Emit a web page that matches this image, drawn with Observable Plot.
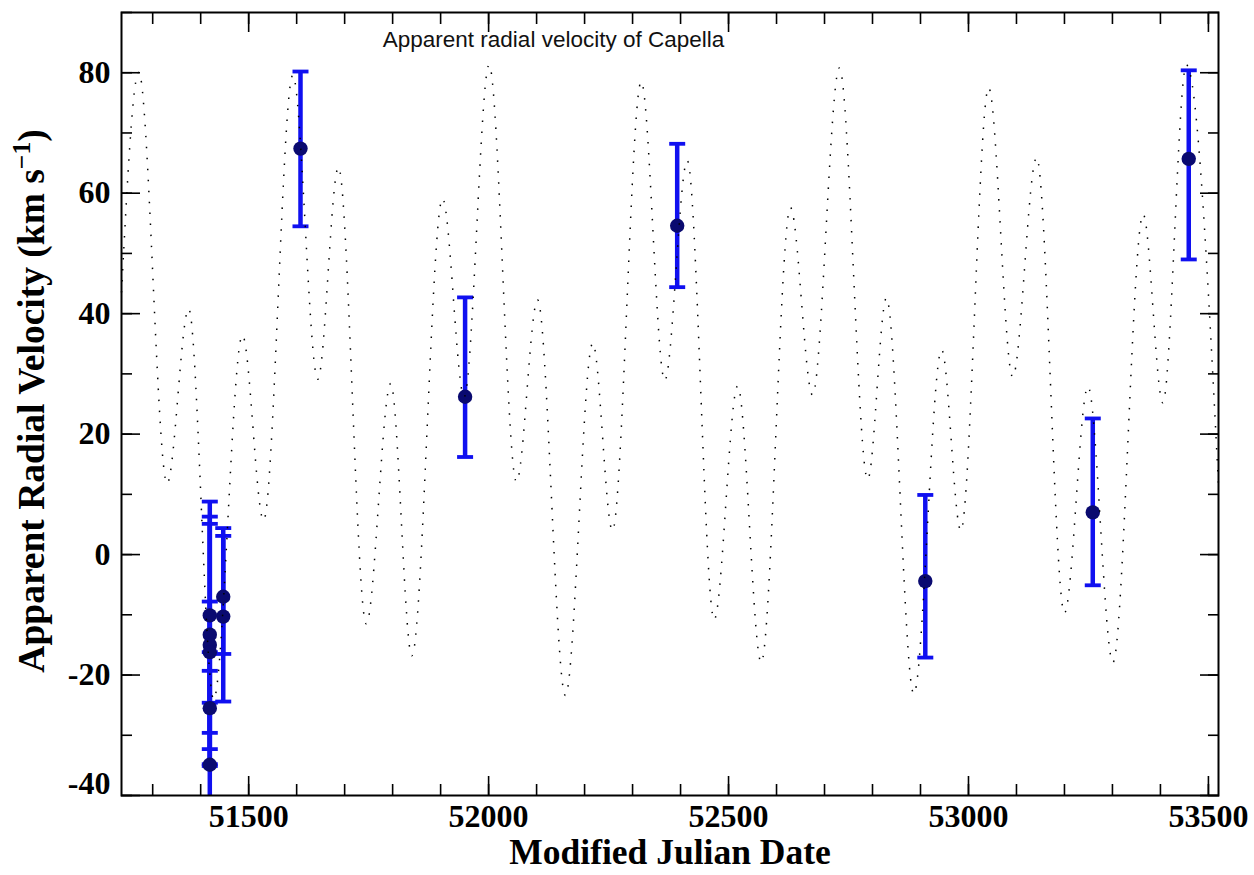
<!DOCTYPE html>
<html>
<head>
<meta charset="utf-8">
<script src="https://cdn.jsdelivr.net/npm/d3@7"></script>
<script src="https://cdn.jsdelivr.net/npm/@observablehq/plot@0.6"></script>
<style>
  html, body { margin: 0; padding: 0; background: #fff; }
  #chart svg { display: block; }
</style>
</head>
<body>
<div id="chart"></div>
<script>
// ---- Model curve (dotted): local extrema ----
const curveMJD = [51235, 51271, 51330, 51375, 51427, 51487, 51531, 51592, 51644, 51687,
  51745, 51796, 51840, 51904, 51949, 52001, 52058, 52102, 52160, 52217,
  52258, 52318, 52367, 52414, 52470, 52519, 52568, 52629, 52675, 52731,
  52790, 52829, 52886, 52944, 52984, 53042, 53092, 53142, 53200, 53249,
  53301, 53364, 53405, 53454, 53521];
const curveRV = [43.5, 80.1, 11.8, 40.8, -24.0, 36.4, 5.7, 79.6, 29.1, 64.3,
  -11.5, 28.4, -16.8, 59.1, 26.2, 81.3, 12.1, 42.3, -23.4, 35.1,
  4.0, 78.5, 28.9, 65.4, -10.8, 28.0, -17.9, 57.6, 26.5, 80.8,
  12.5, 42.6, -23.1, 34.0, 4.0, 77.5, 29.5, 65.9, -9.7, 27.9,
  -17.9, 56.5, 25.2, 81.3, 11.5];

// ---- Observations with error bars ----
const obsMJD = [51419, 51419, 51419, 51419, 51419, 51419, 51447, 51447, 51608, 51951, 52393, 52910, 53259, 53459];
const obsRV  = [-10.1, -13.3, -15.0, -16.2, -25.5, -34.9, -7.0, -10.3, 67.4, 26.2, 54.6, -4.4, 7.0, 65.7];
const obsLo  = [-29.6, -32.3, -35.1, -24.6, -34.8, -50.5, -16.5, -24.4, 54.5, 16.2, 44.4, -17.1, -5.1, 49.0];
const obsHi  = [8.8, 6.3, 5.1, -7.8, -16.2, -19.3, 3.1, 4.4, 80.2, 42.7, 68.2, 9.9, 22.6, 80.4];

// ---- Axes ----
const xDomain = [51235, 53521];
const yDomain = [-40, 90];
const xMajor = [51500, 52000, 52500, 53000, 53500];
const xTickLabels = ["51500", "52000", "52500", "53000", "53500"];
const xMinor = [51300, 51400, 51500, 51600, 51700, 51800, 51900, 52000, 52100, 52200, 52300, 52400,
  52500, 52600, 52700, 52800, 52900, 53000, 53100, 53200, 53300, 53400, 53500];
const yMajor = [-40, -20, 0, 20, 40, 60, 80];
const yTickLabels = ["-40", "-20", "0", "20", "40", "60", "80"];
const yMinor = [-40, -30, -20, -10, 0, 10, 20, 30, 40, 50, 60, 70, 80, 90];

const titleText = "Apparent radial velocity of Capella";
const xLabelText = "Modified Julian Date";
const yLabelMain = "Apparent Radial Velocity (km s";
const yLabelSup = "\u22121";
const yLabelEnd = ")";

// ---- Build tables ----
const curve = curveMJD.map((x, i) => ({x, y: curveRV[i]}));
const obs = obsMJD.map((x, i) => ({x, y: obsRV[i], lo: obsLo[i], hi: obsHi[i]}));
const caps = obs.flatMap(d => [{x: d.x, y: d.lo}, {x: d.x, y: d.hi}])
  .filter(d => d.y >= yDomain[0] && d.y <= yDomain[1]);

const capSymbol = {
  draw(context, size) {
    const r = Math.sqrt(size / Math.PI);
    context.moveTo(-r, 0);
    context.lineTo(r, 0);
  }
};

const serif = "'Liberation Serif', 'DejaVu Serif', serif";
const sans = "'Liberation Sans', Arial, sans-serif";
const blue = "#1010f0";
const navy = "#0a0a70";

const tickOpts = {stroke: "#000", strokeWidth: 1.6, fill: "none", label: null};
const xFmt = d => xTickLabels[xMajor.indexOf(d)];
const yFmt = d => yTickLabels[yMajor.indexOf(d)];

const plot = Plot.plot({
  width: 1254,
  height: 875,
  marginLeft: 121,
  marginRight: 36,
  marginTop: 12,
  marginBottom: 80,
  style: {background: "#fff", color: "#000", fontFamily: serif},
  x: {domain: xDomain},
  y: {domain: yDomain, clamp: true},
  marks: [
    // error bars
    Plot.ruleX(obs, {x: "x", y1: "lo", y2: "hi", stroke: blue, strokeWidth: 4.5}),
    Plot.dot(caps, {x: "x", y: "y", symbol: capSymbol, r: 8, stroke: blue, strokeWidth: 3.8, fill: "none"}),
    // points
    Plot.dot(obs, {x: "x", y: "y", r: 7.2, fill: navy, stroke: "none"}),
    // model curve
    Plot.line(curve, {x: "x", y: "y", curve: "monotone-x", stroke: "#000", strokeWidth: 1.5,
      strokeDasharray: "1.5 9.5", strokeLinecap: "butt"}),
    // frame
    Plot.frame({stroke: "#000", strokeWidth: 2}),
    // inward ticks: bottom/top
    Plot.axisX(xMajor, {anchor: "bottom", tickSize: -19, ...tickOpts}),
    Plot.axisX(xMinor, {anchor: "bottom", tickSize: -11, ...tickOpts}),
    Plot.axisX(xMajor, {anchor: "top", tickSize: -19, ...tickOpts}),
    Plot.axisX(xMinor, {anchor: "top", tickSize: -11, ...tickOpts}),
    // inward ticks: left/right
    Plot.axisY(yMajor, {anchor: "left", tickSize: -19, ...tickOpts}),
    Plot.axisY(yMinor, {anchor: "left", tickSize: -11, ...tickOpts}),
    Plot.axisY(yMajor, {anchor: "right", tickSize: -19, ...tickOpts}),
    Plot.axisY(yMinor, {anchor: "right", tickSize: -11, ...tickOpts}),
    // tick labels
    Plot.axisX(xMajor, {anchor: "bottom", tickSize: 0, tickPadding: 9, tickFormat: xFmt,
      fontSize: 32, fontWeight: "bold", fontFamily: serif, fill: "#000", label: null}),
    Plot.axisY(yMajor.filter(d => d !== -40), {anchor: "left", tickSize: 0, tickPadding: 11, tickFormat: yFmt,
      fontSize: 32, fontWeight: "bold", fontFamily: serif, fill: "#000", label: null}),
    Plot.axisY([-40], {anchor: "left", tickSize: 0, tickPadding: 11, tickFormat: yFmt, dy: -12,
      fontSize: 32, fontWeight: "bold", fontFamily: serif, fill: "#000", label: null}),
    // axis titles
    Plot.text([xLabelText], {text: d => d, frameAnchor: "bottom", dy: 68, lineAnchor: "bottom",
      fontSize: 35.5, fontWeight: "bold", fontFamily: serif, fill: "#000"}),
    Plot.text([yLabelMain], {text: d => d, frameAnchor: "left", rotate: -90, dx: -78, dy: -3, lineAnchor: "bottom",
      textAnchor: "middle", fontSize: 37.5, fontWeight: "bold", fontFamily: serif, fill: "#000"}),
    // chart title inside the frame
    Plot.text([titleText], {text: d => d, frameAnchor: "top", dx: -116.5, dy: 34, lineAnchor: "bottom",
      fontSize: 22.5, fontFamily: sans, fill: "#111", fontWeight: "normal"})
  ]
});

// add the superscript to the y-axis title
d3.select(plot).selectAll("text").filter(function() { return this.textContent === yLabelMain; })
  .each(function() {
    const t = d3.select(this);
    t.text(null);
    t.append("tspan").text(yLabelMain);
    t.append("tspan").attr("dy", -14).attr("font-size", "0.68em").text(yLabelSup);
    t.append("tspan").attr("dy", 14).text(yLabelEnd);
  });

document.getElementById("chart").appendChild(plot);
</script>
</body>
</html>
